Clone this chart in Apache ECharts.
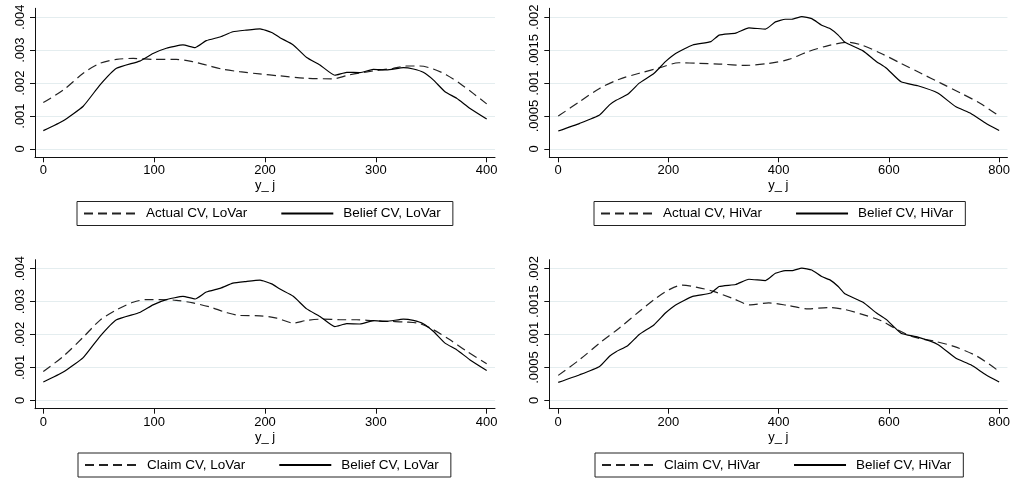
<!DOCTYPE html>
<html><head><meta charset="utf-8">
<script src="https://cdn.jsdelivr.net/npm/echarts@6/dist/echarts.min.js"></script>
<style>html,body{margin:0;padding:0;background:#fff}#c{width:1013px;height:482px}</style>
</head><body><div id="c"></div>
<script>
// ---- data ----
const beliefLoX = [0,18,36,51,66,87,99,111,126,137,147,160,171,183,195.5,206,213.5,225.5,237.6,249.6,263,273.7,285.7,297.7,309.7,324.8,333.8,342.8,351.8,362.4,372.9,385,400];
const beliefLoY = [.000557,.00086,.0013,.00194,.00245,.00267,.0029,.00306,.00316,.00308,.00329,.00341,.00356,.00361,.00365,.00354,.00338,.00316,.00278,.00255,.00224,.00233,.00232,.00242,.0024,.00247,.00243,.00233,.0021,.00174,.00154,.00123,.00091];
const actualLoX = [0,18,36,51,66,81,99,120,135,147,162,177,195,213.5,237.6,261,276,297.7,315.6,327.6,339.7,351.8,363.8,375.8,387.8,400];
const actualLoY = [.00141,.00179,.0023,.0026,.00272,.00275,.00272,.00272,.00265,.00255,.00242,.00235,.00228,.00222,.00215,.00213,.00225,.00237,.00245,.00252,.00252,.00243,.00225,.00199,.00169,.00137];
const claimLoX = [0,18,36,51,66,81,93,105,120,135,150,165,177,195.5,210.5,225.5,237.6,252.6,267.6,282.7,297.7,312.8,327.8,339.8,351.8,366.9,382,400];
const claimLoY = [.00088,.00134,.00192,.00243,.00275,.00298,.00306,.00306,.00304,.00296,.00284,.00267,.00258,.00257,.0025,.00235,.00243,.00247,.00245,.00245,.00242,.0024,.00238,.00233,.00215,.00184,.00149,.00111];
const beliefHiX = [0,39,75,93,105,126,147,174,195,213,244,277,292,322,346,376,394,412,424,442,460,478,493,508,520,553,577,595,622,652.5,688.6,721.6,748.7,775.8,800];
const beliefHiY = [.000273,.00039,.000516,.00067,.00074,.00083,.001,.00115,.00133,.00145,.00158,.00163,.00173,.00176,.00184,.00182,.00193,.00197,.00197,.00201,.00198,.00188,.00183,.00173,.00162,.00149,.00133,.00123,.00102,.00096,.00085,.00064,.00054,.00039,.00028];
const actualHiX = [0,39,75,111,147,183,219,256,292,340,382,418,454,490,526,550,586,622,658,694,730,766,800];
const actualHiY = [.0005,.00072,.00092,.00106,.00115,.00123,.00131,.0013,.00129,.00127,.0013,.00136,.00148,.00157,.00162,.00158,.00145,.0013,.00115,.001,.00085,.00069,.0005];
const claimHiX = [0,39,75,111,147,177,201,225,250,280,316,349,382,418,454,490,520,550,586,616,646,682,718,760,800];
const claimHiY = [.00038,.00062,.00087,.0011,.00135,.00155,.00168,.00175,.00172,.00166,.00155,.00145,.00148,.00144,.00139,.00141,.00138,.00131,.00121,.00107,.00096,.0009,.00082,.00067,.00044];

const xTicksLo = [0,100,200,300,400];
const xTicksHi = [0,200,400,600,800];
const yTicksLo = [0,.001,.002,.003,.004];
const yTicksHi = [0,.0005,.001,.0015,.002];
const xTitle = 'y_ j';
const legendNames = [
  ['Actual CV, LoVar','Belief CV, LoVar'],
  ['Actual CV, HiVar','Belief CV, HiVar'],
  ['Claim CV, LoVar','Belief CV, LoVar'],
  ['Claim CV, HiVar','Belief CV, HiVar']
];

function pairs(xs, ys){ return xs.map((x,i)=>[x, ys[i]]); }
const FONT = '"Liberation Sans", Arial, sans-serif';
const fmtY = v => v === 0 ? '0' : String(+v.toPrecision(6)).replace(/^0\./, '.');

const grids = [
  {left:35, top:8.3, width:460, height:149},
  {left:549.3, top:8.3, width:460.7, height:149},
  {left:35, top:259.7, width:460, height:149},
  {left:549.3, top:259.7, width:460.7, height:149}
];
const xr = [[-7.5,407.5,xTicksLo],[-16.2,815,xTicksHi],[-7.5,407.5,xTicksLo],[-16.2,815,xTicksHi]];
const yr = [[-0.000252,0.004273,yTicksLo],[-0.000126,0.0021365,yTicksHi],[-0.000252,0.004273,yTicksLo],[-0.000126,0.0021365,yTicksHi]];

const axisLine = {show:true, onZero:false, lineStyle:{color:'#111', width:1}};
const xAxes = xr.map((r,i)=>({
  type:'value', gridIndex:i, min:r[0], max:r[1],
  axisLine, axisTick:{show:true, length:5, customValues:r[2], lineStyle:{color:'#111'}},
  axisLabel:{customValues:r[2], margin:7, color:'#000', fontFamily:FONT, fontSize:13},
  splitLine:{show:false},
  name:xTitle, nameLocation:'middle', nameGap:22,
  nameTextStyle:{color:'#000', fontFamily:FONT, fontSize:13}
}));
const yAxes = yr.map((r,i)=>({
  type:'value', gridIndex:i, min:r[0], max:r[1],
  axisLine, axisTick:{show:true, length:5, customValues:r[2], lineStyle:{color:'#111'}},
  axisLabel:{customValues:r[2], rotate:90, margin:8, color:'#000', fontFamily:FONT, fontSize:13, formatter:fmtY},
  splitLine:{show:true, lineStyle:{color:'#e4edef', width:1}}
}));

function line(name, data, idx, dashed){
  return {
    type:'line', name, data, xAxisIndex:idx, yAxisIndex:idx,
    symbol:'none', smooth: dashed ? 0.3 : 0.15, silent:true, animation:false,
    lineStyle:{color: dashed ? '#222' : '#000', width: 1.2, type: dashed ? [9,5] : 'solid'},
    itemStyle:{color: dashed ? '#222' : '#000'}
  };
}
const series = [
  line(legendNames[0][0], pairs(actualLoX, actualLoY), 0, true),
  line(legendNames[0][1], pairs(beliefLoX, beliefLoY), 0, false),
  line(legendNames[1][0], pairs(actualHiX, actualHiY), 1, true),
  line(legendNames[1][1], pairs(beliefHiX, beliefHiY), 1, false),
  line(legendNames[2][0], pairs(claimLoX, claimLoY), 2, true),
  line(legendNames[2][1], pairs(beliefLoX, beliefLoY), 2, false),
  line(legendNames[3][0], pairs(claimHiX, claimHiY), 3, true),
  line(legendNames[3][1], pairs(beliefHiX, beliefHiY), 3, false)
];
const legPos = [[77,201.5],[594,201.5],[78,453],[595,453]];
const legends = legendNames.map((names,i)=>({
  data: names, left: legPos[i][0], top: legPos[i][1], orient:'horizontal',
  itemWidth:52, itemHeight:14, itemGap:33,
  padding:[5,12,5,6], borderColor:'#222', borderWidth:1, borderRadius:0,
  selectedMode:false,
  itemStyle:{opacity:0, color:'transparent', borderWidth:0},
  textStyle:{color:'#000', fontFamily:FONT, fontSize:13.5, padding:[0,0,0,5]}
}));

const chart = echarts.init(document.getElementById('c'), null, {renderer:'canvas'});
chart.setOption({
  backgroundColor:'#fff', animation:false,
  grid: grids, xAxis: xAxes, yAxis: yAxes, legend: legends, series
});
</script></body></html>
